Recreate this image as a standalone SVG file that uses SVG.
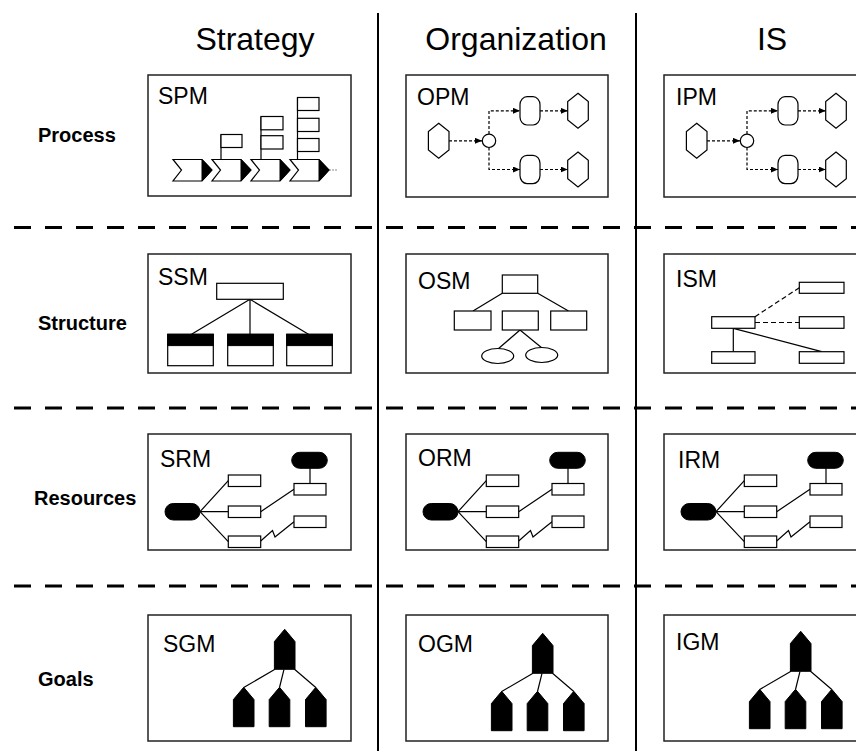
<svg xmlns="http://www.w3.org/2000/svg" xmlns:xlink="http://www.w3.org/1999/xlink" width="856" height="751" viewBox="0 0 856 751">
<style>
.box{fill:#fff;stroke:#222;stroke-width:1.5}
.s{fill:#fff;stroke:#000;stroke-width:1.2}
.b{fill:#000;stroke:#000;stroke-width:1}
.ln{fill:none;stroke:#000;stroke-width:1.2}
.dl{fill:none;stroke:#000;stroke-width:1.2;stroke-dasharray:3 2}
.sep{fill:none;stroke:#000;stroke-width:3;stroke-dasharray:17 14}
.vl{fill:none;stroke:#000;stroke-width:2}
.hd{font-family:"Liberation Sans",Arial,sans-serif;font-size:32px;text-anchor:middle;fill:#000}
.rl{font-family:"Liberation Sans",Arial,sans-serif;font-size:20px;font-weight:bold;fill:#000}
.bl{font-family:"Liberation Sans",Arial,sans-serif;font-size:23px;fill:#000}
</style>
<defs>
<marker id="ah" viewBox="0 0 8 8" refX="8" refY="4" markerWidth="7" markerHeight="6" orient="auto" markerUnits="userSpaceOnUse" preserveAspectRatio="none">
<path d="M0,0 L8,4 L0,8 z" fill="#000" stroke="none"/>
</marker>
<g id="pmFig">
<polygon class="s" points="180.7,123.3 191,131.6 191,150 180.7,158.3 170.4,150 170.4,131.6"/>
<circle class="s" cx="231" cy="140.8" r="6.7"/>
<path class="dl" d="M191,140.8 H224" marker-end="url(#ah)"/>
<path class="dl" d="M231,134 V110.8 H262" marker-end="url(#ah)"/>
<path class="dl" d="M231,147.5 V169.5 H262" marker-end="url(#ah)"/>
<rect class="s" x="262" y="96.7" width="20" height="28.3" rx="7" ry="8"/>
<rect class="s" x="262" y="155.3" width="20" height="28.3" rx="7" ry="8"/>
<path class="dl" d="M282,110.8 H309.7" marker-end="url(#ah)"/>
<path class="dl" d="M282,169.5 H309.7" marker-end="url(#ah)"/>
<polygon class="s" points="320,93.3 330.3,101.6 330.3,120 320,128.3 309.7,120 309.7,101.6"/>
<polygon class="s" points="320,152 330.3,160.3 330.3,178.7 320,187 309.7,178.7 309.7,160.3"/>
</g>
<g id="rmFig">
<rect class="b" x="165" y="503.5" width="35" height="16.5" rx="8.25"/>
<rect class="b" x="291.7" y="452.3" width="35.6" height="16" rx="8"/>
<path class="ln" d="M200,511.7 L228.3,480.7 M200,511.7 H228.3 M200,511.7 L228.3,541.7 M310,468.3 V483.5 M260.7,511.7 L294,489.2 M260.7,541 L272.5,530.5 L275,537 L294,521.8"/>
<rect class="s" x="228.3" y="475" width="32.4" height="11.5"/>
<rect class="s" x="228.3" y="506" width="32.4" height="11.5"/>
<rect class="s" x="228.3" y="536" width="32.4" height="11.5"/>
<rect class="s" x="294" y="483.5" width="32" height="11.5"/>
<rect class="s" x="294" y="516" width="32" height="11.5"/>
</g>
<g id="gmFig">
<path class="ln" d="M275,669.3 L243.7,687.5 M284,669.3 L279.5,687.5 M294.5,669.3 L315.8,687.5"/>
<polygon class="b" points="284.7,629.3 295,641.6 295,669.3 274.4,669.3 274.4,641.6"/>
<polygon class="b" points="243.7,687.3 254,699.6 254,726.7 233.4,726.7 233.4,699.6"/>
<polygon class="b" points="279.5,687.3 289.8,699.6 289.8,726.7 269.2,726.7 269.2,699.6"/>
<polygon class="b" points="315.8,687.3 326.1,699.6 326.1,726.7 305.5,726.7 305.5,699.6"/>
</g>
</defs>

<g id="grid">
<line class="vl" x1="378" y1="13" x2="378" y2="751"/>
<line class="vl" x1="636" y1="13" x2="636" y2="751"/>
<line class="sep" x1="14" y1="227.5" x2="856" y2="227.5"/>
<line class="sep" x1="14" y1="408" x2="856" y2="408"/>
<line class="sep" x1="14" y1="586" x2="856" y2="586"/>
</g>

<g id="headers">
<text id="h-strategy" class="hd" x="255" y="50">Strategy</text>
<text id="h-organization" class="hd" x="516" y="50">Organization</text>
<text id="h-is" class="hd" x="772" y="50">IS</text>
</g>

<g id="rows">
<text id="r-process" class="rl" x="38" y="142">Process</text>
<text id="r-structure" class="rl" x="38" y="330">Structure</text>
<text id="r-resources" class="rl" x="34" y="505">Resources</text>
<text id="r-goals" class="rl" x="38" y="686">Goals</text>
</g>

<g id="SPM">
<rect class="box" x="148" y="75" width="203" height="121"/>
<text class="bl" x="158" y="104">SPM</text>
<path d="M329,170 H338" fill="none" stroke="#888" stroke-width="1" stroke-dasharray="2 1"/>
<g id="chevrons">
<polygon class="s" points="173,159.5 202,159.5 212,170 202,181 173,181 181.5,170"/>
<polygon class="b" points="202,159.5 212,170 202,181"/>
<polygon class="s" points="212,159.5 241,159.5 251,170 241,181 212,181 220.5,170"/>
<polygon class="b" points="241,159.5 251,170 241,181"/>
<polygon class="s" points="251,159.5 280,159.5 290,170 280,181 251,181 259.5,170"/>
<polygon class="b" points="280,159.5 290,170 280,181"/>
<polygon class="s" points="290,159.5 319,159.5 329,170 319,181 290,181 298.5,170"/>
<polygon class="b" points="319,159.5 329,170 319,181"/>
</g>
<path class="ln" d="M221,134.5 V159.5 M261,116.5 V159.5 M297.5,97.5 V159.5"/>
<rect class="s" x="221" y="134.5" width="21" height="13"/>
<rect class="s" x="261" y="116.5" width="22" height="13.3"/>
<rect class="s" x="261" y="135.7" width="22" height="13.3"/>
<rect class="s" x="297.5" y="97.5" width="21.5" height="13"/>
<rect class="s" x="297.5" y="118.3" width="21.5" height="13.2"/>
<rect class="s" x="297.5" y="138.5" width="21.5" height="13"/>
</g>

<g id="OPM">
<rect class="box" x="406" y="75" width="202" height="122"/>
<text class="bl" x="417" y="105">OPM</text>
<use xlink:href="#pmFig" href="#pmFig" x="258" y="0"/>
</g>

<g id="IPM">
<rect class="box" x="664" y="75" width="210" height="122"/>
<text class="bl" x="676" y="105">IPM</text>
<use xlink:href="#pmFig" href="#pmFig" x="516" y="0"/>
</g>

<g id="SSM">
<rect class="box" x="148" y="254" width="203" height="119"/>
<text class="bl" x="158" y="285">SSM</text>
<path class="ln" d="M250,299.3 L191.5,334.3 M250,299.3 V334.3 M250,299.3 L308.5,334.3"/>
<rect class="s" x="216.7" y="283.3" width="66.6" height="16"/>
<rect class="s" x="167.7" y="334.3" width="45.6" height="31.4"/>
<rect class="b" x="167.7" y="334.3" width="45.6" height="11.3"/>
<rect class="s" x="227.7" y="334.3" width="45.6" height="31.4"/>
<rect class="b" x="227.7" y="334.3" width="45.6" height="11.3"/>
<rect class="s" x="286.7" y="334.3" width="45.6" height="31.4"/>
<rect class="b" x="286.7" y="334.3" width="45.6" height="11.3"/>
</g>

<g id="OSM">
<rect class="box" x="406" y="254" width="202" height="119"/>
<text class="bl" x="418" y="289">OSM</text>
<path class="ln" d="M502.3,293.3 L473,311 M537.7,293.3 L568.5,311 M520,330 L498.3,348.7 M520,330 L541.7,347.7"/>
<rect class="s" x="502.3" y="275" width="35.4" height="18.3"/>
<rect class="s" x="454.3" y="311" width="36.7" height="19"/>
<rect class="s" x="502.3" y="311" width="36" height="19"/>
<rect class="s" x="550.7" y="311" width="36" height="19"/>
<ellipse class="s" cx="497.7" cy="356" rx="16" ry="7.5"/>
<ellipse class="s" cx="541.7" cy="355" rx="16" ry="7.5"/>
</g>

<g id="ISM">
<rect class="box" x="664" y="254" width="210" height="119"/>
<text class="bl" x="676" y="287">ISM</text>
<path d="M755,316.7 L799.3,287.7 M755,322.5 H799.3" fill="none" stroke="#000" stroke-width="1.2" stroke-dasharray="5 3"/>
<path class="ln" d="M733.3,328.3 V351.7 M733.3,328.3 L821.7,351.7"/>
<rect class="s" x="711.7" y="316.7" width="43.3" height="11.6"/>
<rect class="s" x="799.3" y="282.3" width="44.7" height="11"/>
<rect class="s" x="799.3" y="316.7" width="44.7" height="11.6"/>
<rect class="s" x="711.7" y="351.7" width="43.3" height="11.6"/>
<rect class="s" x="799.3" y="351.7" width="44.7" height="11.6"/>
</g>

<g id="SRM">
<rect class="box" x="148" y="434" width="203" height="116"/>
<text class="bl" x="160" y="467">SRM</text>
<use xlink:href="#rmFig" href="#rmFig" x="0" y="0"/>
</g>

<g id="ORM">
<rect class="box" x="406" y="434" width="202" height="116"/>
<text class="bl" x="418" y="466">ORM</text>
<use xlink:href="#rmFig" href="#rmFig" x="258" y="0"/>
</g>

<g id="IRM">
<rect class="box" x="664" y="434" width="210" height="116"/>
<text class="bl" x="678" y="468">IRM</text>
<use xlink:href="#rmFig" href="#rmFig" x="516" y="0"/>
</g>

<g id="SGM">
<rect class="box" x="148" y="615" width="203" height="126"/>
<text class="bl" x="163" y="652">SGM</text>
<use xlink:href="#gmFig" href="#gmFig" x="0" y="0"/>
</g>

<g id="OGM">
<rect class="box" x="406" y="615" width="202" height="126"/>
<text class="bl" x="418" y="652">OGM</text>
<use xlink:href="#gmFig" href="#gmFig" x="258" y="4"/>
</g>

<g id="IGM">
<rect class="box" x="664" y="615" width="210" height="126"/>
<text class="bl" x="676" y="650">IGM</text>
<use xlink:href="#gmFig" href="#gmFig" x="516" y="2"/>
</g>
</svg>
